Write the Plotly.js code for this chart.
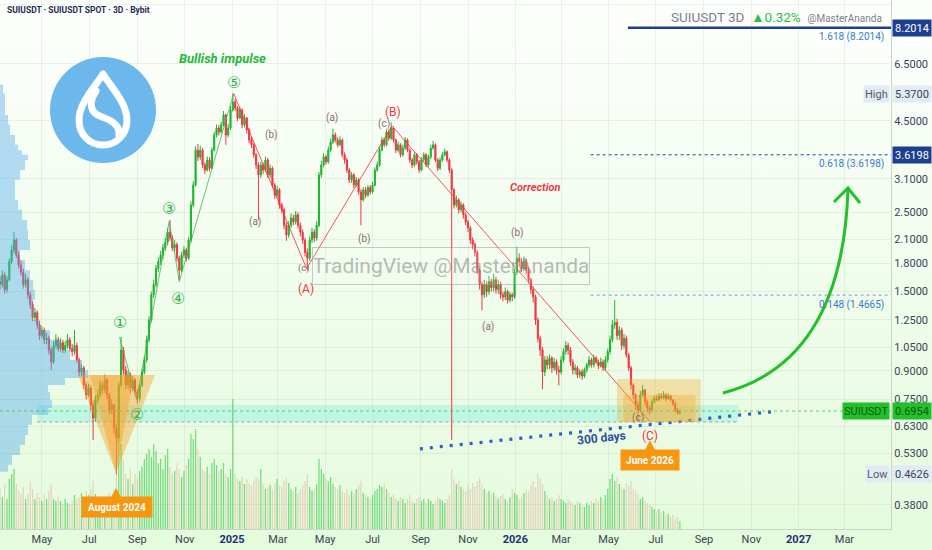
<!DOCTYPE html>
<html><head><meta charset="utf-8">
<script src="https://cdn.plot.ly/plotly-3.0.1.min.js"></script>
<style>
html,body{margin:0;padding:0;background:#fff;}
#chart{width:932px;height:550px;background:linear-gradient(to bottom,#fdfffd 0%,#f3fdf0 40%,#e4fbdc 100%);}
</style></head><body><div id="chart"></div><script>
// ---------- DATA (3D candles, SUIUSDT) ----------
const firstDate = '2024-03-08';
const firstOpen = 1.60;
const closes = [
1.57,1.67,1.52,1.62,1.82,1.96,2.09,1.90,1.78,1.70,
1.57,1.62,1.47,1.38,1.27,1.31,1.21,1.13,1.17,1.10,
1.11,1.03,0.953,1.06,1.10,1.04,1.08,1.03,1.06,1.10,
1.04,1.02,1.06,0.966,0.894,0.918,0.822,0.771,0.806,0.723,
0.665,0.747,0.771,0.822,0.796,0.849,0.771,0.700,0.723,0.624,
0.585,0.822,1.03,0.906,0.822,0.877,0.806,0.849,0.786,0.756,
0.822,0.894,0.966,1.10,1.25,1.47,1.57,1.74,1.82,1.90,
1.99,2.06,2.20,2.12,1.99,2.03,1.86,1.72,1.90,1.96,
1.86,2.09,2.62,2.98,3.73,3.57,3.73,3.39,3.28,3.50,
3.32,3.73,4.11,4.30,4.19,4.39,4.68,4.11,4.30,4.83,
5.09,4.89,4.59,4.83,4.39,4.59,4.25,3.98,3.86,3.62,
3.39,3.18,3.39,3.28,3.50,3.18,3.32,2.98,2.79,2.89,
2.62,2.54,2.30,2.16,2.30,2.41,2.35,2.46,2.30,2.20,
2.09,1.93,1.86,2.09,2.20,2.12,2.30,3.18,3.39,3.57,
3.46,3.73,3.93,4.11,3.98,3.86,3.98,3.62,3.50,3.28,
3.08,3.18,2.98,3.08,2.85,2.71,2.89,2.79,2.93,2.85,
2.98,3.28,3.39,3.73,3.98,3.86,4.19,4.03,4.30,3.98,
3.73,3.86,3.62,3.78,3.98,3.73,3.50,3.39,3.62,3.46,
3.28,3.50,3.62,3.39,3.57,3.78,3.86,3.50,3.32,3.50,
3.62,3.69,3.50,3.28,2.89,2.62,2.71,2.54,2.62,2.46,
2.35,2.26,2.09,2.03,1.93,1.72,1.57,1.47,1.57,1.50,
1.60,1.54,1.62,1.52,1.57,1.47,1.45,1.50,1.42,1.47,
1.45,1.70,1.86,1.82,1.74,1.82,1.72,1.62,1.52,1.45,
1.25,1.11,1.03,0.894,0.966,0.936,0.978,0.918,0.953,0.906,
0.894,0.966,1.02,1.06,1.03,0.953,0.906,0.918,0.877,0.894,
0.871,0.906,0.936,0.966,0.936,0.978,0.953,0.930,0.953,0.918,
0.966,1.02,1.10,1.21,1.23,1.13,1.17,1.06,1.11,0.998,
0.918,0.822,0.771,0.723,0.700,0.771,0.796,0.737,0.709,0.700,
0.737,0.756,0.747,0.766,0.756,0.771,0.752,0.766,0.747,0.728,
0.700,0.687,0.6954];
const highs = [
1.66,1.72,1.70,1.66,1.86,2.02,2.20,2.12,1.95,1.83,
1.74,1.68,1.65,1.50,1.41,1.35,1.33,1.24,1.20,1.19,
1.15,1.13,1.05,1.09,1.14,1.12,1.11,1.10,1.09,1.14,
1.12,1.07,1.17,1.08,0.98,0.94,0.93,0.84,0.83,0.82,
0.74,0.77,0.80,0.85,0.84,0.88,0.86,0.78,0.75,0.73,
0.64,0.84,1.12,1.05,0.93,0.90,0.89,0.87,0.86,0.80,
0.84,0.91,0.99,1.13,1.28,1.50,1.62,1.78,1.87,1.95,
2.04,2.12,2.26,2.38,2.16,2.09,2.06,1.89,1.94,2.01,
1.99,2.13,2.68,3.05,3.82,3.88,3.84,3.78,3.45,3.58,
3.56,3.80,4.20,4.40,4.38,4.48,4.80,4.72,4.42,4.95,
5.37,5.18,4.95,4.95,4.88,4.70,4.62,4.30,4.05,3.90,
3.66,3.45,3.46,3.44,3.58,3.55,3.40,3.36,3.02,2.96,
2.92,2.66,2.58,2.34,2.36,2.48,2.46,2.52,2.50,2.34,
2.24,2.12,1.98,2.14,2.26,2.24,2.36,3.24,3.48,3.66,
3.62,3.82,4.02,4.28,4.18,4.05,4.08,4.02,3.68,3.55,
3.32,3.24,3.22,3.14,3.12,2.90,2.94,2.94,2.98,2.98,
3.04,3.34,3.46,3.80,4.06,4.04,4.26,4.25,4.46,4.34,
4.02,3.94,3.90,3.86,4.06,4.02,3.77,3.55,3.68,3.66,
3.50,3.56,3.68,3.66,3.62,3.86,3.96,3.90,3.54,3.56,
3.68,3.76,3.72,3.54,3.32,2.92,2.78,2.74,2.68,2.65,
2.50,2.38,2.29,2.13,2.06,1.96,1.75,1.60,1.62,1.60,
1.66,1.63,1.68,1.65,1.62,1.60,1.50,1.54,1.52,1.50,
1.49,1.74,2.00,1.92,1.86,1.88,1.85,1.75,1.64,1.55,
1.47,1.27,1.13,1.05,0.99,0.99,1.00,0.99,0.98,0.97,
0.93,0.99,1.04,1.09,1.08,1.05,0.97,0.94,0.93,0.91,
0.91,0.92,0.95,0.99,0.98,1.00,0.99,0.97,0.98,0.97,
0.99,1.04,1.13,1.25,1.42,1.26,1.20,1.19,1.14,1.13,
1.01,0.93,0.83,0.78,0.74,0.79,0.82,0.80,0.75,0.72,
0.75,0.77,0.77,0.78,0.78,0.79,0.78,0.78,0.77,0.75,
0.74,0.71,0.70];
const lows = [
1.52,1.54,1.48,1.49,1.60,1.79,1.92,1.86,1.74,1.66,
1.53,1.54,1.43,1.34,1.24,1.24,1.18,1.10,1.11,1.07,
1.07,1.00,0.905,0.94,1.04,1.02,1.02,1.01,1.01,1.04,
1.02,0.99,1.00,0.95,0.87,0.87,0.80,0.75,0.76,0.70,
0.577,0.65,0.73,0.76,0.78,0.78,0.75,0.68,0.68,0.60,
0.4626,0.57,0.81,0.88,0.80,0.80,0.78,0.79,0.77,0.73,
0.74,0.81,0.88,0.95,1.08,1.23,1.44,1.54,1.70,1.78,
1.85,1.95,2.02,2.08,1.95,1.94,1.82,1.62,1.70,1.86,
1.82,1.84,2.06,2.58,2.95,3.48,3.50,3.32,3.20,3.25,
3.25,3.30,3.70,4.05,4.10,4.15,4.35,3.86,4.05,4.25,
4.78,4.80,4.50,4.55,4.30,4.32,4.15,3.90,3.78,3.55,
3.30,2.38,3.12,3.20,3.24,3.12,3.12,2.92,2.72,2.74,
2.56,2.48,2.24,2.08,2.12,2.26,2.30,2.31,2.25,2.14,
2.04,1.88,1.72,1.83,2.05,2.06,2.08,2.27,3.12,3.34,
3.40,3.42,3.68,3.88,3.92,3.80,3.82,3.56,3.42,3.22,
3.02,3.02,2.92,2.94,2.80,2.30,2.68,2.74,2.76,2.80,
2.82,2.95,3.24,3.35,3.70,3.80,3.82,3.96,3.98,3.92,
3.66,3.68,3.56,3.58,3.74,3.68,3.44,3.32,3.35,3.40,
3.22,3.25,3.46,3.34,3.35,3.52,3.74,3.45,3.26,3.28,
3.46,3.58,3.45,3.22,0.577,2.56,2.58,2.48,2.50,2.40,
2.30,2.20,2.04,1.97,1.88,1.68,1.52,1.33,1.44,1.45,
1.47,1.50,1.50,1.48,1.48,1.43,1.41,1.42,1.39,1.40,
1.41,1.43,1.67,1.76,1.70,1.71,1.68,1.58,1.48,1.40,
1.21,1.08,0.99,0.80,0.87,0.91,0.91,0.89,0.90,0.88,
0.82,0.88,0.95,1.00,1.00,0.93,0.88,0.88,0.86,0.86,
0.85,0.86,0.89,0.92,0.92,0.92,0.94,0.91,0.92,0.90,
0.90,0.95,1.00,1.08,1.18,1.10,1.10,1.03,1.04,0.98,
0.90,0.80,0.75,0.70,0.657,0.69,0.76,0.72,0.69,0.68,
0.69,0.73,0.74,0.74,0.75,0.75,0.74,0.75,0.74,0.72,
0.69,0.68,0.68];
const volumes = [
40,32,45,30,50,55,60,45,38,35,42,30,35,48,40,30,36,32,28,34,30,38,45,30,28,32,
28,25,30,26,24,28,34,30,32,36,30,38,34,40,48,35,30,28,32,30,34,36,30,40,
62,90,85,70,55,50,60,45,55,50,58,62,70,75,80,72,85,78,66,70,60,74,80,62,56,58,66,60,52,58,64,
70,95,90,100,80,72,60,58,62,55,66,70,64,58,60,66,55,52,60,130,
55,50,48,52,45,50,46,44,48,52,50,60,45,40,42,44,40,46,50,44,42,48,52,46,40,38,42,36,40,44,48,55,42,38,40,45,
70,60,55,50,48,52,45,42,40,44,38,36,40,34,38,35,40,44,48,36,34,32,30,34,38,40,44,42,46,40,36,32,35,30,28,32,30,26,30,34,28,26,30,32,28,30,26,30,28,25,28,32,30,28,26,30,34,
60,50,45,48,42,40,38,44,40,46,42,48,52,45,40,36,38,34,36,32,30,33,35,30,28,32,40,36,34,30,32,36,40,38,44,48,42,55,50,
45,38,34,30,32,28,30,34,30,28,26,30,28,26,24,28,26,24,22,26,24,28,26,30,28,32,30,34,40,50,55,48,52,45,42,40,46,44,48,40,
38,35,30,32,28,26,24,22,20,18,20,16,18,14,15,12,14,10,12,8];
// visible-range volume profile
const profileLevels = [5.68,5.37,4.99,4.68,4.39,4.11,3.86,3.73,3.62,3.50,3.28,3.08,2.89,2.71,2.54,2.38,2.23,2.09,1.96,1.84,1.72,1.62,1.52,1.42,1.33,1.25,1.17,1.10,1.03,0.966,0.906,0.86,0.822,0.786,0.747,0.709,0.678,0.636,0.596,0.559,0.524,0.492,0.470];
const profileVol = [3,5,5,8,10,15,18,22,28,25,20,15,15,18,22,27,28,30,20,25,30,33,35,33,33,40,50,60,70,82,88,65,48,50,52,48,32,28,25,20,12,8,5];
// Elliott wave pivots
const impulseDates = ['2024-08-09','2024-08-31','2024-10-12','2024-10-25','2025-01-03'];
const impulsePrices = [1.12,0.747,2.36,1.60,5.37];
const correctionDates = ['2025-01-03','2025-04-07','2025-07-26','2026-06-23'];
const correctionPrices = [5.37,1.74,4.36,0.652];
// 300 days support
const supportDates = ['2025-08-31','2026-12-05'];
const supportPrices = [0.545,0.695];
// levels
const fib1618 = 8.2014, fib0618 = 3.6198, fib0148 = 1.4665;
const highPrice = 5.37, lowPrice = 0.4626, lastPrice = 0.6954;
const changePct = '0.32%';
const yTicks = [0.38,0.53,0.63,0.75,0.9,1.05,1.25,1.5,1.8,2.1,2.5,3.1,4.5,6.5,9.5];
const xTickVals = ['2024-05-01','2024-07-01','2024-09-01','2024-11-01','2025-01-01','2025-03-01','2025-05-01','2025-07-01','2025-09-01','2025-11-01','2026-01-01','2026-03-01','2026-05-01','2026-07-01','2026-09-01','2026-11-01','2027-01-01','2027-03-01'];
const xTickText = ['May','Jul','Sep','Nov','<b style="color:#1d3275">2025</b>','Mar','May','Jul','Sep','Nov','<b style="color:#1d3275">2026</b>','Mar','May','Jul','Sep','Nov','<b style="color:#1d3275">2027</b>','Mar'];

// ---------- BUILD ----------
const DAY = 86400000;
const t0 = Date.parse(firstDate + 'T00:00:00Z');
const dates = closes.map((_, i) => new Date(t0 + i * 3 * DAY).toISOString().slice(0, 10));
const opens = closes.map((c, i) => i === 0 ? firstOpen : closes[i - 1]);
const volColors = closes.map((c, i) => c >= opens[i] ? 'rgba(40,200,60,0.6)' : 'rgba(225,140,125,0.35)');

const W = 891, H = 529; // plot area px
const px = (x) => x / W, py = (y) => 1 - y / H;
const path = (pts, close) => pts.map((p, i) => (i ? 'L' : 'M') + px(p[0]).toFixed(4) + ',' + py(p[1]).toFixed(4)).join(' ') + (close ? ' Z' : '');
const L = Math.log10;
const FONT = 'Roboto, Liberation Sans, DejaVu Sans, sans-serif';

const traces = [
  { type: 'bar', x: dates, y: volumes, yaxis: 'y2', marker: { color: volColors, line: { width: 0 } }, hoverinfo: 'skip', showlegend: false },
  { type: 'scatter', x: profileVol, y: profileLevels, xaxis: 'x2', yaxis: 'y', mode: 'lines', line: { shape: 'vh', width: 0, color: 'rgba(80,170,235,0.5)' }, fill: 'tozerox', fillcolor: 'rgba(80,170,235,0.42)', hoverinfo: 'skip', showlegend: false },
  { type: 'scatter', x: impulseDates, y: impulsePrices, mode: 'lines', line: { color: 'rgba(60,175,80,0.75)', width: 1 }, hoverinfo: 'skip', showlegend: false },
  { type: 'scatter', x: correctionDates, y: correctionPrices, mode: 'lines', line: { color: 'rgba(242,54,69,0.85)', width: 1 }, hoverinfo: 'skip', showlegend: false },
  { type: 'candlestick', x: dates, open: opens, high: highs, low: lows, close: closes, whiskerwidth: 0,
    increasing: { line: { color: '#1fb52f', width: 1 }, fillcolor: '#1fb52f' },
    decreasing: { line: { color: '#f23645', width: 1 }, fillcolor: '#f23645' }, hoverinfo: 'skip', showlegend: false },
  { type: 'scatter', x: supportDates, y: supportPrices, mode: 'lines', line: { color: '#2f5fc0', width: 3.2, dash: '3px,7px' }, hoverinfo: 'skip', showlegend: false }
];

const orange = 'rgba(246,160,35,0.42)';
// NOTE: shape coordinates on the log axis are given in price units
const shapes = [
  { type: 'rect', xref: 'x', yref: 'y', x0: '2024-04-25', x1: '2026-10-15', y0: 0.648, y1: 0.723, fillcolor: 'rgba(110,235,225,0.33)', line: { width: 0 }, layer: 'below' },
  { type: 'line', xref: 'x', yref: 'y', x0: '2024-04-25', x1: '2026-10-15', y0: 0.648, y1: 0.648, line: { color: 'rgba(120,130,150,0.7)', width: 1, dash: 'dot' } },
  { type: 'line', xref: 'paper', yref: 'y', x0: 0, x1: 1, y0: lastPrice, y1: lastPrice, line: { color: 'rgba(34,192,42,0.7)', width: 1, dash: 'dot' } },
  { type: 'line', xref: 'x', yref: 'y', x0: '2026-05-26', x1: '2027-04-30', y0: fib1618, y1: fib1618, line: { color: '#1e3f8f', width: 2.5 } },
  { type: 'line', xref: 'x', yref: 'y', x0: '2026-04-08', x1: '2027-04-30', y0: fib0618, y1: fib0618, line: { color: '#27449a', width: 1, dash: 'dot' } },
  { type: 'line', xref: 'x', yref: 'y', x0: '2026-04-08', x1: '2027-04-30', y0: fib0148, y1: fib0148, line: { color: '#6f9fd8', width: 1, dash: 'dot' } },
  { type: 'path', xref: 'paper', yref: 'paper', path: path([[78,375],[134,375],[116,473]], true), fillcolor: orange, line: { width: 0 } },
  { type: 'path', xref: 'paper', yref: 'paper', path: path([[90,375],[155,375],[116,473]], true), fillcolor: orange, line: { width: 0 } },
  { type: 'rect', xref: 'x', yref: 'y', x0: '2026-05-12', x1: '2026-08-28', y0: 0.648, y1: 0.855, fillcolor: 'rgba(246,168,40,0.33)', line: { width: 0 } },
  { type: 'rect', xref: 'x', yref: 'y', x0: '2026-05-20', x1: '2026-08-21', y0: 0.648, y1: 0.771, fillcolor: 'rgba(246,168,40,0.33)', line: { width: 0 } },
  { type: 'path', xref: 'paper', yref: 'paper', path: 'M' + px(723) + ',' + py(393) + ' Q' + px(842) + ',' + py(362) + ' ' + px(848) + ',' + py(190), line: { color: '#22c02a', width: 3 } },
  { type: 'path', xref: 'paper', yref: 'paper', path: path([[834,202],[848,188],[860,203]], false), line: { color: '#22c02a', width: 3 } },
  { type: 'path', xref: 'paper', yref: 'paper', path: path([[110,499],[122,499],[116,488]], true), fillcolor: '#f7960f', line: { width: 0 } },
  { type: 'path', xref: 'paper', yref: 'paper', path: path([[644,452],[656,452],[650,440]], true), fillcolor: '#f7960f', line: { width: 0 } }
];

const ann = [];
const A = (o) => ann.push(Object.assign({ showarrow: false, xanchor: 'center', yanchor: 'middle', font: { family: FONT } }, o));
// header
A({ xref: 'paper', yref: 'paper', x: px(5), y: py(10), xanchor: 'left', yanchor: 'middle', text: '<b>SUIUSDT · SUIUSDT SPOT · 3D · Bybit</b>', font: { family: FONT, size: 8.5, color: '#1e2c55' } });
A({ xref: 'paper', yref: 'paper', x: px(884), y: py(17), xanchor: 'right', yanchor: 'middle', text: 'SUIUSDT 3D  <span style="color:#2ebd45">▲' + changePct + '</span>  <span style="font-size:10px">@MasterAnanda</span>', font: { family: FONT, size: 13.5, color: '#7d8088' } });
// fib labels
A({ xref: 'paper', yref: 'paper', x: px(886), y: py(37), xanchor: 'right', text: '1.618 (' + fib1618.toFixed(4) + ')', font: { family: FONT, size: 10, color: '#3a7cc8' } });
A({ xref: 'paper', yref: 'paper', x: px(886), y: py(164), xanchor: 'right', text: '0.618 (' + fib0618.toFixed(4) + ')', font: { family: FONT, size: 10, color: '#3a7cc8' } });
A({ xref: 'paper', yref: 'paper', x: px(886), y: py(305), xanchor: 'right', text: '0.148 (' + fib0148.toFixed(4) + ')', font: { family: FONT, size: 10, color: '#3a7cc8' } });
// axis boxes (annotation y on log axis is log10)
const axBox = (val, bg, fg) => A({ xref: 'paper', yref: 'y', x: 1, y: L(val), xanchor: 'left', xshift: 1, text: val.toFixed(4), bgcolor: bg, width: 36, height: 14, borderpad: 1, font: { family: FONT, size: 11, color: fg } });
axBox(fib1618, '#1e3f8f', '#ffffff');
axBox(fib0618, '#1e3f8f', '#ffffff');
axBox(highPrice, '#e2ebf5', '#3b4254');
axBox(lowPrice, '#e2ebf5', '#3b4254');
axBox(lastPrice, '#22c02a', '#0d5a12');
const sideBox = (txt, val, bg, fg) => A({ xref: 'paper', yref: 'y', x: 1, y: L(val), xanchor: 'right', xshift: -1, text: txt, bgcolor: bg, height: 14, borderpad: 1, font: { family: FONT, size: 11, color: fg } });
sideBox('High', highPrice, '#e2ebf5', '#555b66');
sideBox('Low', lowPrice, '#e2ebf5', '#555b66');
sideBox('SUIUSDT', lastPrice, '#22c02a', '#0d5a12');
// titles on chart
A({ xref: 'paper', yref: 'paper', x: px(222), y: py(58), text: '<b><i>Bullish impulse</i></b>', font: { family: FONT, size: 13, color: '#22b83a' } });
A({ xref: 'paper', yref: 'paper', x: px(535), y: py(187), text: '<b><i>Correction</i></b>', font: { family: FONT, size: 11, color: '#f23645' } });
A({ xref: 'paper', yref: 'paper', x: px(451), y: py(266), text: 'TradingView @MasterAnanda', width: 274, height: 34, bordercolor: 'rgba(140,140,140,0.45)', borderwidth: 1, bgcolor: 'rgba(255,255,255,0.12)', font: { family: FONT, size: 21, color: 'rgba(120,120,120,0.5)' } });
A({ xref: 'paper', yref: 'paper', x: px(601), y: py(438), text: '<b>300 days</b>', textangle: -6, font: { family: FONT, size: 12, color: '#2b4ea0' } });
A({ xref: 'paper', yref: 'paper', x: px(117), y: py(507), text: '<b>August 2024</b>', bgcolor: '#f7960f', width: 66, height: 16, borderpad: 2, font: { family: FONT, size: 10, color: '#ffffff' } });
A({ xref: 'paper', yref: 'paper', x: px(650), y: py(460), text: '<b>June 2026</b>', bgcolor: '#f7960f', width: 54, height: 16, borderpad: 2, font: { family: FONT, size: 10, color: '#ffffff' } });
// wave labels
const green = '#33b54a', brown = '#8a6d6f', red = '#f23645';
const wl = [
  ['①', 120, 323, green, 16], ['②', 137, 414, green, 16], ['③', 169, 208, green, 16], ['④', 178, 298, green, 16], ['⑤', 234, 82, green, 16],
  ['(a)', 255, 222, brown, 10], ['(b)', 271, 135, brown, 10], ['(c)', 304, 268, brown, 9.5], ['(A)', 306, 289, red, 12],
  ['(a)', 332, 118, brown, 10], ['(b)', 364, 239, brown, 10], ['(c)', 384, 124, brown, 10], ['(B)', 393, 112, red, 12],
  ['(a)', 488, 327, brown, 10], ['(b)', 517, 233, brown, 10], ['(c)', 638, 418, brown, 10], ['(C)', 650, 436, red, 12]
];
wl.forEach(w => A({ xref: 'paper', yref: 'paper', x: px(w[1]), y: py(w[2]), text: w[0], borderpad: 0, font: { family: w[0].length === 1 ? 'DejaVu Sans, Noto Sans CJK SC' : FONT, size: w[4], color: w[3] } }));

const logoSvg = '<svg xmlns="http://www.w3.org/2000/svg" width="106" height="106" viewBox="0 0 106 106">' +
  '<circle cx="53" cy="53" r="53" fill="#6cb8ec"/>' +
  '<path d="M53 17 C45 30 29 46 29 63 C29 78 40 88 53 88 C66 88 77 78 77 63 C77 46 61 30 53 17 Z" fill="none" stroke="#fff" stroke-width="7" stroke-linejoin="round"/>' +
  '<path d="M46 34 C38 46 40 56 52 60 C64 64 70 70 69 78" fill="none" stroke="#fff" stroke-width="7" stroke-linecap="round"/>' +
  '</svg>';

const layout = {
  width: 932, height: 550,
  margin: { l: 0, r: 41, t: 0, b: 21 },
  paper_bgcolor: 'rgba(0,0,0,0)', plot_bgcolor: 'rgba(0,0,0,0)',
  font: { family: FONT },
  showlegend: false, bargap: 0.45, dragmode: false,
  xaxis: { type: 'date', range: ['2024-03-08', '2027-04-30'], tickvals: xTickVals, ticktext: xTickText, tickfont: { size: 11, color: '#3b4254' },
    showgrid: true, gridcolor: 'rgba(170,195,170,0.22)', showline: true, linecolor: '#c9d3c9', ticks: '', rangeslider: { visible: false }, fixedrange: true, zeroline: false },
  xaxis2: { overlaying: 'x', range: [0, W], visible: false, fixedrange: true },
  yaxis: { type: 'log', side: 'right', range: [-0.4877, 0.9915], tickvals: yTicks, tickformat: '.4f', tickfont: { size: 11, color: '#3b4254' },
    showgrid: true, gridcolor: 'rgba(170,195,170,0.22)', showline: true, linecolor: '#c9d3c9', ticks: '', fixedrange: true, zeroline: false },
  yaxis2: { overlaying: 'y', range: [0, H], visible: false, fixedrange: true },
  shapes: shapes,
  annotations: ann,
  images: [{ source: 'data:image/svg+xml;charset=utf-8,' + encodeURIComponent(logoSvg), xref: 'paper', yref: 'paper', x: px(50), y: py(57), sizex: 106 / W, sizey: 106 / H, xanchor: 'left', yanchor: 'top', sizing: 'stretch', layer: 'above' }]
};

Plotly.newPlot('chart', traces, layout, { staticPlot: true, displayModeBar: false });
</script></body></html>
